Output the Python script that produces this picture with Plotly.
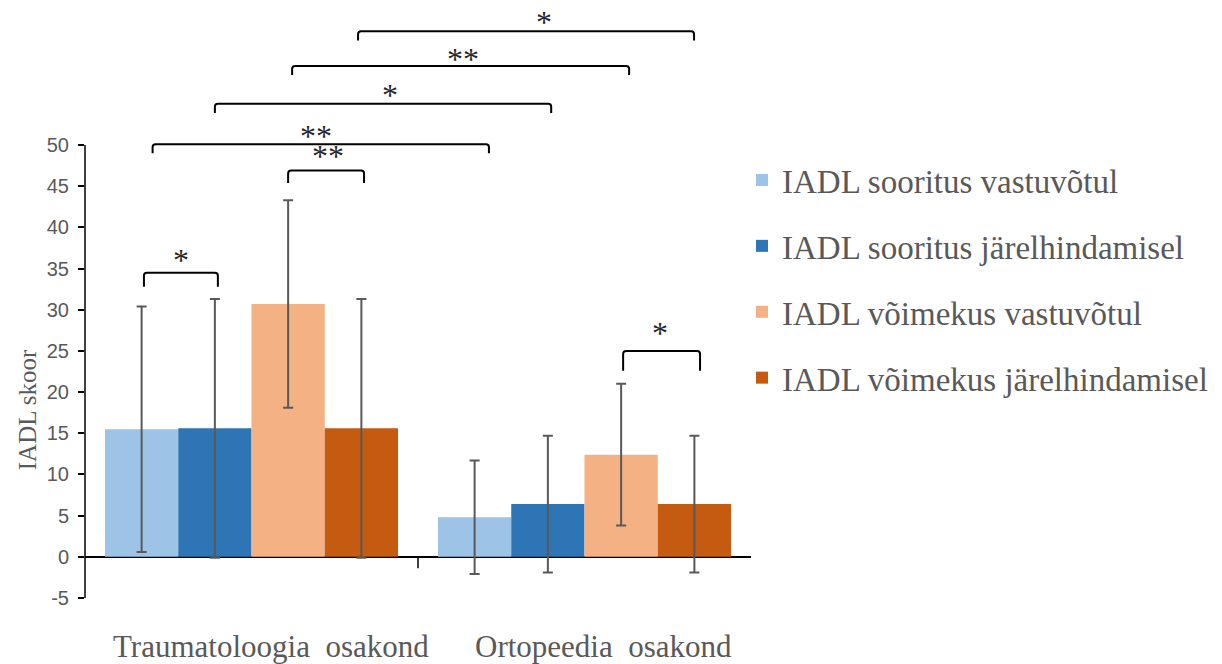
import plotly.graph_objects as go

categories = ["Traumatoloogia osakond", "Ortopeedia osakond"]
category_labels = ["Traumatoloogia\u00a0 osakond", "Ortopeedia\u00a0 osakond"]
series_names = [
    "IADL sooritus vastuvõtul",
    "IADL sooritus järelhindamisel",
    "IADL võimekus vastuvõtul",
    "IADL võimekus järelhindamisel",
]
sooritus_vastuvotul = [15.5, 4.8]
sooritus_jarelhindamisel = [15.6, 6.4]
voimekus_vastuvotul = [30.7, 12.4]
voimekus_jarelhindamisel = [15.6, 6.4]
err_sooritus_vastuvotul = [14.9, 6.9]
err_sooritus_jarelhindamisel = [15.7, 8.3]
err_voimekus_vastuvotul = [12.6, 8.6]
err_voimekus_jarelhindamisel = [15.7, 8.3]
colors = ["#9DC3E6", "#2E75B6", "#F4B183", "#C55A11"]
y_tickvals = [-5, 0, 5, 10, 15, 20, 25, 30, 35, 40, 45, 50]
y_ticktext = ["-5", "0", "5", "10", "15", "20", "25", "30", "35", "40", "45", "50"]

# significance brackets: (x_left, x_right, y_top, y_leg, label, star_x, star_y)
brackets = [
    (0.320, 1.329, 63.8, 62.7, "*", 0.878, 65.3),
    (0.122, 1.134, 59.6, 58.5, "**", 0.635, 60.8),
    (-0.110, 0.900, 55.0, 53.9, "*", 0.416, 56.4),
    (-0.297, 0.713, 50.1, 49.0, "**", 0.194, 51.5),
    (0.110, 0.338, 46.9, 45.4, "**", 0.230, 49.0),
    (-0.323, -0.101, 34.5, 32.8, "*", -0.212, 36.4),
    (1.116, 1.347, 25.0, 22.6, "*", 1.227, 27.6),
]

values = [sooritus_vastuvotul, sooritus_jarelhindamisel, voimekus_vastuvotul, voimekus_jarelhindamisel]
errors = [err_sooritus_vastuvotul, err_sooritus_jarelhindamisel, err_voimekus_vastuvotul, err_voimekus_jarelhindamisel]

W, H = 1222, 664
ML, MR, MT, MB = 85, 0, 5, 66
plot_w = W - ML - MR
x_dom_end = (751 - ML) / plot_w
plot_h = H - MT - MB

def px_x(px):
    return (px - ML) / plot_w

def px_y(py):
    return (H - MB - py) / plot_h

fig = go.Figure()
for i, (name, vals, errs) in enumerate(zip(series_names, values, errors)):
    fig.add_trace(go.Bar(
        x=categories, y=vals, name=name, legendgroup=f"g{i}",
        marker=dict(color=colors[i], line=dict(width=0)),
        error_y=dict(type="data", array=errs, visible=True, color="#595959", thickness=2, width=5),
    ))

serif = "Liberation Serif, Times New Roman, serif"
shapes = []
annotations = []
shapes.append(dict(type="line", xref="paper", x0=0, x1=0, yref="y", y0=-5, y1=50,
                   line=dict(color="black", width=1.5)))
shapes.append(dict(type="line", xref="x", x0=0.5, x1=0.5, yref="y", y0=0, y1=-1.4,
                   line=dict(color="black", width=1.5)))
rx, ry = 0.009, 0.35
for (x1, x2, yt, yl, lab, sx, sy) in brackets:
    path = (f"M {x1},{yl} L {x1},{yt - ry} Q {x1},{yt} {x1 + rx},{yt} "
            f"L {x2 - rx},{yt} Q {x2},{yt} {x2},{yt - ry} L {x2},{yl}")
    shapes.append(dict(type="path", xref="x", yref="y", path=path,
                       line=dict(color="black", width=2)))
    annotations.append(dict(x=sx, y=sy, xref="x", yref="y", text=lab, showarrow=False,
                            font=dict(family=serif, size=32, color="#262626"),
                            height=20, valign="middle",
                            xanchor="center", yanchor="middle", yshift=-3))

for i, lab in enumerate(category_labels):
    annotations.append(dict(x=i, y=px_y(646), xref="x", yref="paper", text=lab, showarrow=False,
                            xshift=19, font=dict(family=serif, size=31, color="#595959"),
                            xanchor="center", yanchor="middle"))

annotations.append(dict(x=px_x(27), y=17.8, xref="paper", yref="y", text="IADL skoor",
                        showarrow=False, textangle=-90,
                        font=dict(family=serif, size=25, color="#595959"),
                        xanchor="center", yanchor="middle"))

fig.update_layout(
    width=W, height=H,
    margin=dict(l=ML, r=MR, t=MT, b=MB),
    paper_bgcolor="white", plot_bgcolor="white",
    barmode="group", bargap=0.12, bargroupgap=0,
    showlegend=True,
    legend=dict(x=px_x(742), xanchor="left", y=px_y(152), yanchor="top",
                font=dict(family=serif, size=33, color="#595959"),
                tracegroupgap=20, bgcolor="rgba(0,0,0,0)"),
    xaxis=dict(domain=[0, x_dom_end], range=[-0.5, 1.5], showticklabels=False, showline=False,
               showgrid=False, zeroline=False, ticks=""),
    yaxis=dict(range=[-5, 67], tickvals=y_tickvals, ticktext=y_ticktext, showgrid=False,
               showline=False, zeroline=True, zerolinecolor="black", zerolinewidth=1.5,
               ticks="outside", ticklen=6, tickwidth=1.5, tickcolor="black", ticklabelstandoff=5,
               tickfont=dict(family="Liberation Sans, Arial, sans-serif", size=20, color="#595959")),
    shapes=shapes, annotations=annotations,
)

fig.write_html("out.html", config={"displayModeBar": False},
               post_script="document.body.style.margin='0';document.body.style.overflow='hidden';")
